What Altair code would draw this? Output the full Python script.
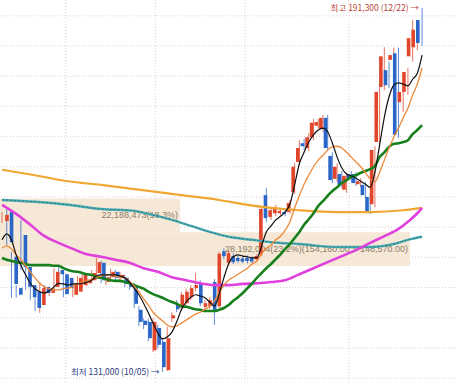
import altair as alt
import pandas as pd

# ---- daily candles (index 0 .. 89) ----
opens = [156000, 157500, 150100, 144900, 153700, 148400, 145400, 144300, 142100, 145100,
         144100, 145100, 147900, 147200, 146600, 143800, 144300, 145400, 145700, 146200,
         147400, 149100, 145900, 146700, 147600, 146600, 146600, 145700, 145100, 141300,
         139500, 139300, 134600, 138300, 136000, 131300, 139900, 142100, 141600, 142400,
         143400, 144900, 145600, 141800, 141900, 145900, 141900, 151000, 149100, 150200,
         149900, 149800, 149900, 149900, 149700, 150500, 160300, 156700, 157300, 157300,
         157500, 157500, 160800, 165800, 168900, 168100, 169900, 171800, 171300, 173100,
         166800, 163000, 163800, 161200, 163800, 163800, 162100, 162000, 160000, 158800,
         169100, 178200, 181000, 182700, 183800, 175700, 177400, 183300, 184800, 189300]
highs = [157500, 158200, 150900, 145400, 156200, 148900, 145900, 144800, 145900, 145400,
         145200, 148200, 148600, 147700, 146900, 146200, 146900, 147600, 146700, 147900,
         149900, 149400, 147100, 148100, 147900, 147600, 147100, 146200, 145600, 141900,
         139900, 139800, 139900, 138800, 136600, 138500, 140900, 142900, 144300, 144800,
         145400, 147400, 146200, 142900, 143400, 146400, 150900, 151500, 151200, 150700,
         150200, 150200, 150300, 150200, 150500, 158500, 161500, 158300, 158700, 158200,
         157900, 159500, 165600, 169400, 169600, 170600, 172900, 172900, 173600, 173600,
         167400, 165600, 164300, 164000, 164300, 164100, 163100, 162500, 160500, 168400,
         178500, 184800, 182400, 184700, 184700, 178000, 181400, 189300, 189300, 191300]
lows = [155700, 152000, 143300, 143300, 147900, 144600, 142900, 141100, 140800, 143600,
        143600, 144600, 146700, 143400, 144300, 143400, 143800, 144900, 145200, 145700,
        146900, 145700, 145400, 146200, 146100, 146100, 145100, 144600, 141600, 138600,
        138100, 136100, 134300, 134900, 131000, 131200, 139300, 140900, 141100, 141900,
        142900, 144400, 141900, 141300, 141400, 138800, 141600, 149700, 148600, 148900,
        149100, 149000, 149000, 149000, 149400, 150200, 155800, 156200, 156800, 157000,
        156800, 157200, 160500, 165500, 167800, 167600, 169400, 171300, 170800, 167600,
        162300, 162500, 161500, 160700, 162600, 161800, 161600, 159800, 157200, 158300,
        168600, 177700, 178000, 182200, 169800, 174100, 176900, 182400, 184300, 185000]
closes = [157000, 152500, 145600, 143800, 148400, 145100, 143400, 141600, 144900, 144100,
          144800, 147600, 147200, 143900, 144900, 145700, 146600, 147100, 146200, 147400,
          149200, 146200, 146700, 147600, 146600, 147100, 145600, 145100, 142300, 139300,
          138800, 136600, 139300, 135500, 131800, 136600, 140400, 141400, 143800, 144300,
          144900, 145400, 142400, 142400, 142900, 141300, 150600, 150200, 150700, 149200,
          149400, 149300, 149400, 149300, 150200, 158000, 156500, 157800, 158200, 157700,
          157200, 159000, 165000, 168100, 168400, 169900, 172300, 172400, 173100, 168100,
          162800, 165000, 162000, 163500, 163100, 162300, 162600, 160300, 157500, 167800,
          177400, 183300, 178500, 183500, 170300, 177400, 180700, 186300, 187700, 185500]

# ---- moving averages ----
ma5 = [152900, 153900, 152900, 150400, 148700, 147100, 145700, 144800, 144300, 144100,
       144400, 145100, 145700, 145600, 145400, 145600, 145600, 145700, 145900, 146200,
       146900, 147100, 147100, 147100, 147100, 146900, 146600, 145900, 144900, 143800,
       142400, 140800, 139100, 137500, 136500, 136800, 137600, 139300, 141300, 142600,
       143400, 143800, 143600, 143300, 142600, 141900, 143900, 146600, 148900, 150100,
       150400, 150200, 150100, 149900, 149900, 151900, 154200, 155200, 156200, 156800,
       157500, 158800, 162000, 165500, 167400, 169100, 170300, 171100, 171400, 170800,
       168900, 166600, 164800, 163800, 163500, 163100, 162600, 162100, 161600, 164100,
       168600, 173200, 176600, 178500, 178900, 178700, 178400, 179500, 180500, 183500]
ma10 = [151500, 151900, 151400, 150400, 149600, 148600, 147600, 146600, 145700, 145100,
        144800, 144600, 144600, 144800, 144900, 145200, 145600, 145900, 146100, 146400,
        146700, 146900, 147100, 147100, 146900, 146700, 146600, 146100, 145200, 144300,
        143100, 142100, 140900, 140100, 139500, 138800, 138500, 138600, 139100, 139600,
        140100, 140600, 140900, 141400, 141900, 142800, 144100, 145400, 146200, 146700,
        147200, 147700, 148200, 148900, 149400, 150600, 151500, 152000, 152900, 153500,
        154500, 155900, 158200, 160200, 162100, 163600, 165000, 166100, 166900, 167800,
        168300, 168400, 168100, 167400, 166600, 165800, 165000, 164000, 163000, 162500,
        164100, 166100, 168100, 169900, 171400, 173100, 174700, 176900, 178700, 181400]
ma20 = [149900, 149600, 149400, 149200, 149100, 148900, 148700, 148700, 148700, 148700,
        148700, 148600, 148600, 148200, 147900, 147700, 147600, 147400, 147200, 147100,
        146700, 146600, 146400, 146200, 146100, 146100, 145900, 145700, 145400, 145100,
        144800, 144300, 143900, 143600, 143300, 142900, 142600, 142300, 141900, 141800,
        141600, 141400, 141300, 141100, 141100, 141100, 141300, 141600, 142100, 142800,
        143400, 144100, 144900, 145700, 146600, 147400, 148200, 148900, 149700, 150500,
        151400, 152200, 153200, 154200, 155400, 156300, 157300, 158500, 159300, 160200,
        161000, 161600, 162300, 162800, 163300, 163600, 164000, 164300, 164600, 165100,
        166600, 167400, 168300, 168800, 168900, 169100, 169400, 170400, 171100, 171900]
ma60_idx = [0, 3, 6, 9, 12, 15, 18, 21, 24, 27, 30, 33, 36, 39, 42, 45, 48, 51, 54, 57,
            60, 63, 66, 69, 72, 75, 78, 81, 84, 86, 88, 89]
ma60 = [158700, 157200, 155400, 153500, 152400, 151400, 150500, 150100, 149600, 149100,
        148200, 147600, 146700, 146200, 145700, 145400, 145400, 145600, 145700, 145900,
        146200, 147200, 148200, 149200, 150200, 151200, 152400, 153500, 154700, 155900,
        157300, 158200]
ma120_idx = [0, 7, 14, 21, 28, 31, 36, 40, 44, 48, 53, 57, 63, 71, 78, 83, 86, 89]
ma120 = [159500, 159200, 158700, 158000, 157700, 157200, 156200, 155200, 154200, 153400,
         152900, 152500, 152200, 151700, 151700, 152200, 152900, 153400]
ma240_idx = [0, 7, 14, 21, 28, 31, 38, 46, 52, 57, 63, 71, 78, 85, 89]
ma240 = [164500, 163600, 162600, 162000, 161300, 161000, 160300, 159500, 158700, 158200,
         157800, 157500, 157500, 157800, 158200]

# ---- price-volume (매물대) bars ----
vp_high = [159750, 154160]
vp_low = [154160, 148570]
vp_volume = [22188473, 28192004]
vp_pct = [18.3, 23.2]

# ---- grid / annotations ----
grid_prices = list(range(130000, 190001, 5000))
month_start_idx = [14, 33, 52, 74]
hi_idx, hi_text = 89, "최고 191,300 (12/22) →"
lo_idx, lo_text = 34, "최저 131,000 (10/05) →"

RED, BLUE = "#e0462c", "#2a66c8"

n = len(opens)
candles = pd.DataFrame({
    "i": list(range(n)), "open": opens, "high": highs, "low": lows, "close": closes,
})
candles["dir"] = ["up" if c >= o else "down" for o, c in zip(opens, closes)]

X = alt.Scale(domain=[-0.4237, 95.975], nice=False, zero=False)
Y = alt.Scale(domain=[129347, 192625], nice=False, zero=False)
VS = alt.Scale(domain=[17490084, 29366566], nice=False, zero=False)

xi = alt.X("i:Q", scale=X, axis=None)
col = alt.Color("dir:N", scale=alt.Scale(domain=["up", "down"], range=[RED, BLUE]), legend=None)

grid_h = alt.Chart(pd.DataFrame({"p": grid_prices})).mark_rule(
    color="#d9cfd9", strokeDash=[1, 2], strokeWidth=1
).encode(y=alt.Y("p:Q", scale=Y, axis=None))

grid_v = alt.Chart(pd.DataFrame({"m": month_start_idx})).transform_calculate(
    b="datum.m - 0.5"
).mark_rule(color="#d9cfd9", strokeDash=[1, 2], strokeWidth=1).encode(
    x=alt.X("b:Q", scale=X, axis=None)
)

vp_labels = []
vmax = max(vp_volume)
for v, p, lo, hi in zip(vp_volume, vp_pct, vp_low, vp_high):
    s = f"{v:,}({p}%)"
    if v == vmax:
        s += f"({hi:,.2f} ~ {lo:,.2f})"
    vp_labels.append(s)
vp = pd.DataFrame({"vol": vp_volume, "lo": vp_low, "hi": vp_high, "label": vp_labels})
vp["mid"] = (vp["lo"] + vp["hi"]) / 2

vp_bars = alt.Chart(vp).mark_bar(color="#f6e8d6").encode(
    x=alt.X("vol:Q", scale=VS, axis=None), x2=alt.value(0),
    y=alt.Y("lo:Q", scale=Y, axis=None), y2="hi:Q",
)
vp_text = alt.Chart(vp).mark_text(
    align="right", baseline="middle", dx=-2, fontSize=9, font="Liberation Sans", color="#8c7c66"
).encode(
    x=alt.X("vol:Q", scale=VS, axis=None), y=alt.Y("mid:Q", scale=Y, axis=None), text="label:N"
)

wicks = alt.Chart(candles).mark_rule(strokeWidth=1, opacity=0.75).encode(
    x=xi, y=alt.Y("low:Q", scale=Y, axis=None), y2="high:Q", color=col
)
bodies = alt.Chart(candles).mark_bar(size=3.6).encode(
    x=xi, y=alt.Y("open:Q", scale=Y, axis=None), y2="close:Q", color=col
)


def line(idx, vals, color, width, **kw):
    df = pd.DataFrame({"i": idx, "v": vals})
    return alt.Chart(df).mark_line(color=color, strokeWidth=width, interpolate="monotone", **kw).encode(
        x=xi, y=alt.Y("v:Q", scale=Y, axis=None)
    )


idx_all = list(range(n))
l240 = line(ma240_idx, ma240, "#f0a834", 2.2)
l120 = line(ma120_idx, ma120, "#48aab2", 2.4)
l120d = line(ma120_idx, ma120, "#1f6066", 1, strokeDash=[2, 2], opacity=0.6)
l60 = line(ma60_idx, ma60, "#e040dc", 2.6)
l20 = line(idx_all, ma20, "#17801c", 2.6)
l10 = line(idx_all, ma10, "#ec8a3a", 1.3)
l5 = line(idx_all, ma5, "#111111", 1.2)

ann = pd.DataFrame({
    "i": [hi_idx, lo_idx],
    "p": [highs[hi_idx], lows[lo_idx]],
    "t": [hi_text, lo_text],
    "c": ["hi", "lo"],
})
ann_text = alt.Chart(ann).mark_text(
    align="right", baseline="middle", dx=-3, fontSize=8.5, font="Noto Sans CJK KR"
).encode(
    x=xi, y=alt.Y("p:Q", scale=Y, axis=None), text="t:N",
    color=alt.Color("c:N", scale=alt.Scale(domain=["hi", "lo"], range=["#b8483a", "#2e3a80"]), legend=None),
)

chart = alt.layer(
    grid_h, grid_v, vp_bars, vp_text, wicks, bodies,
    l240, l120, l120d, l60, l20, l10, l5, ann_text
).resolve_scale(x="independent", color="independent").properties(
    width=455, height=382, padding=0, autosize=alt.AutoSizeParams(type="none"),
    background="white",
).configure_view(stroke=None)

chart.save("out.html", embed_options={"renderer": "svg", "actions": False})
